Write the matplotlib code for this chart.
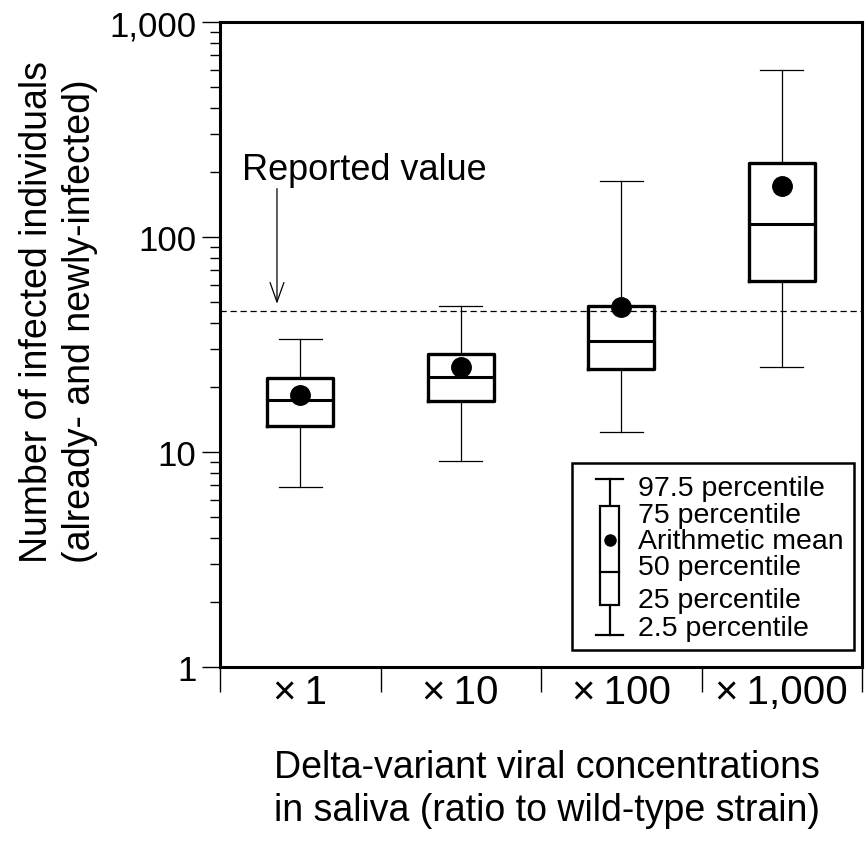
import matplotlib
matplotlib.use("Agg")
import matplotlib.pyplot as plt
from matplotlib.ticker import FixedLocator, NullFormatter
from matplotlib.patches import Rectangle

plt.rcParams['font.family'] = ['Liberation Sans', 'DejaVu Sans']

categories = ["\u00d7\u20091", "\u00d7\u200910", "\u00d7\u2009100", "\u00d7\u20091,000"]
p025 = [6.9, 9.1, 12.4, 24.9]
p25 = [13.2, 17.3, 24.3, 62.6]
p50 = [17.5, 22.3, 32.9, 115]
means = [18.5, 24.9, 47.4, 173]
p75 = [22.2, 28.5, 47.9, 222]
p975 = [33.6, 47.6, 183, 600]
reported_value = 45.2
ytick_vals = [1, 10, 100, 1000]
ytick_labels = ["1", "10", "100", "1,000"]
legend_labels = ["97.5 percentile", "75 percentile", "Arithmetic mean",
                 "50 percentile", "25 percentile", "2.5 percentile"]

fig = plt.figure(figsize=(8.66, 8.54), dpi=100)
ax = fig.add_axes([220/866, 1-668/854, (862-220)/866, (668-23)/854])

stats = []
for i in range(len(categories)):
    stats.append(dict(whislo=p025[i], q1=p25[i], med=p50[i], q3=p75[i],
                      whishi=p975[i], mean=means[i], fliers=[]))
positions = [i + 0.5 for i in range(len(categories))]
ax.bxp(stats, positions=positions, widths=0.41, showmeans=True,
       showfliers=False,
       boxprops=dict(color='black', linewidth=2.4),
       medianprops=dict(color='black', linewidth=2.2),
       whiskerprops=dict(color='black', linewidth=0.9),
       capprops=dict(color='black', linewidth=0.9),
       capwidths=0.27,
       meanprops=dict(marker='o', markerfacecolor='black',
                      markeredgecolor='black', markersize=14))

ax.axhline(reported_value, color='black', linewidth=0.9, linestyle=(0, (5, 3)))

ax.set_yscale('log')
ax.set_ylim(1, 1000)
ax.set_xlim(0, len(categories))

ax.yaxis.set_major_locator(FixedLocator(ytick_vals))
ax.set_yticklabels(ytick_labels)
ax.yaxis.set_minor_formatter(NullFormatter())
ax.tick_params(axis='y', which='major', length=13, width=1, labelsize=25, pad=4)
ax.tick_params(axis='y', which='minor', length=7, width=1)

ax.set_xticks(range(len(categories) + 1))
ax.set_xticklabels([])
ax.set_xticks(positions, minor=True)
ax.set_xticklabels(categories, minor=True)
ax.tick_params(axis='x', which='major', length=18, width=1)
ax.tick_params(axis='x', which='minor', length=0, labelsize=29, pad=4)

for s in ax.spines.values():
    s.set_linewidth(2.2)

ax.set_ylabel("Number of infected individuals\n(already- and newly-infected)",
              fontsize=27, linespacing=1.24, multialignment='left')
ax.yaxis.set_label_coords(-0.19, 0.5527)
ax.set_xlabel("Delta-variant viral concentrations\nin saliva (ratio to wild-type strain)",
              fontsize=27, linespacing=1.24, multialignment='left')
ax.xaxis.set_label_coords(0.5086, -0.127)

ax.annotate("", xy=(0.355, reported_value * 1.05), xytext=(0.355, 173),
            arrowprops=dict(arrowstyle='->,head_length=1.4,head_width=0.5',
                            color='black', lw=0.9))
ax.text(0.137, 207, "Reported value", fontsize=26, va='center', ha='left')

def ax_x(px):
    return (px - 220) / 642
def ax_y(py):
    return (668 - py) / 645

tr = ax.transAxes
ax.add_patch(Rectangle((ax_x(572), ax_y(651)), ax_x(854) - ax_x(572),
                       ax_y(464) - ax_y(651), transform=tr, fill=True,
                       facecolor='white', edgecolor='black', linewidth=1.8, zorder=5))
cx = ax_x(609.5)
ax.plot([cx, cx], [ax_y(480), ax_y(636)], transform=tr, color='black', lw=1.6, zorder=6)
for yy in (480, 636):
    ax.plot([ax_x(596), ax_x(623)], [ax_y(yy), ax_y(yy)], transform=tr,
            color='black', lw=1.6, zorder=6)
ax.add_patch(Rectangle((ax_x(600), ax_y(606)), ax_x(619) - ax_x(600),
                       ax_y(507) - ax_y(606), transform=tr, facecolor='white',
                       edgecolor='black', linewidth=1.6, zorder=7))
ax.plot([ax_x(600), ax_x(619)], [ax_y(573), ax_y(573)], transform=tr,
        color='black', lw=1.6, zorder=8)
ax.plot([cx], [ax_y(541)], transform=tr, marker='o', color='black',
        markersize=8, zorder=8)
text_ys = [489, 516, 542, 568, 601, 629]
for lab, yy in zip(legend_labels, text_ys):
    ax.text(ax_x(638), ax_y(yy), lab, transform=tr, fontsize=20.5,
            va='center', ha='left', zorder=9)

fig.savefig("out.png", dpi=100)
